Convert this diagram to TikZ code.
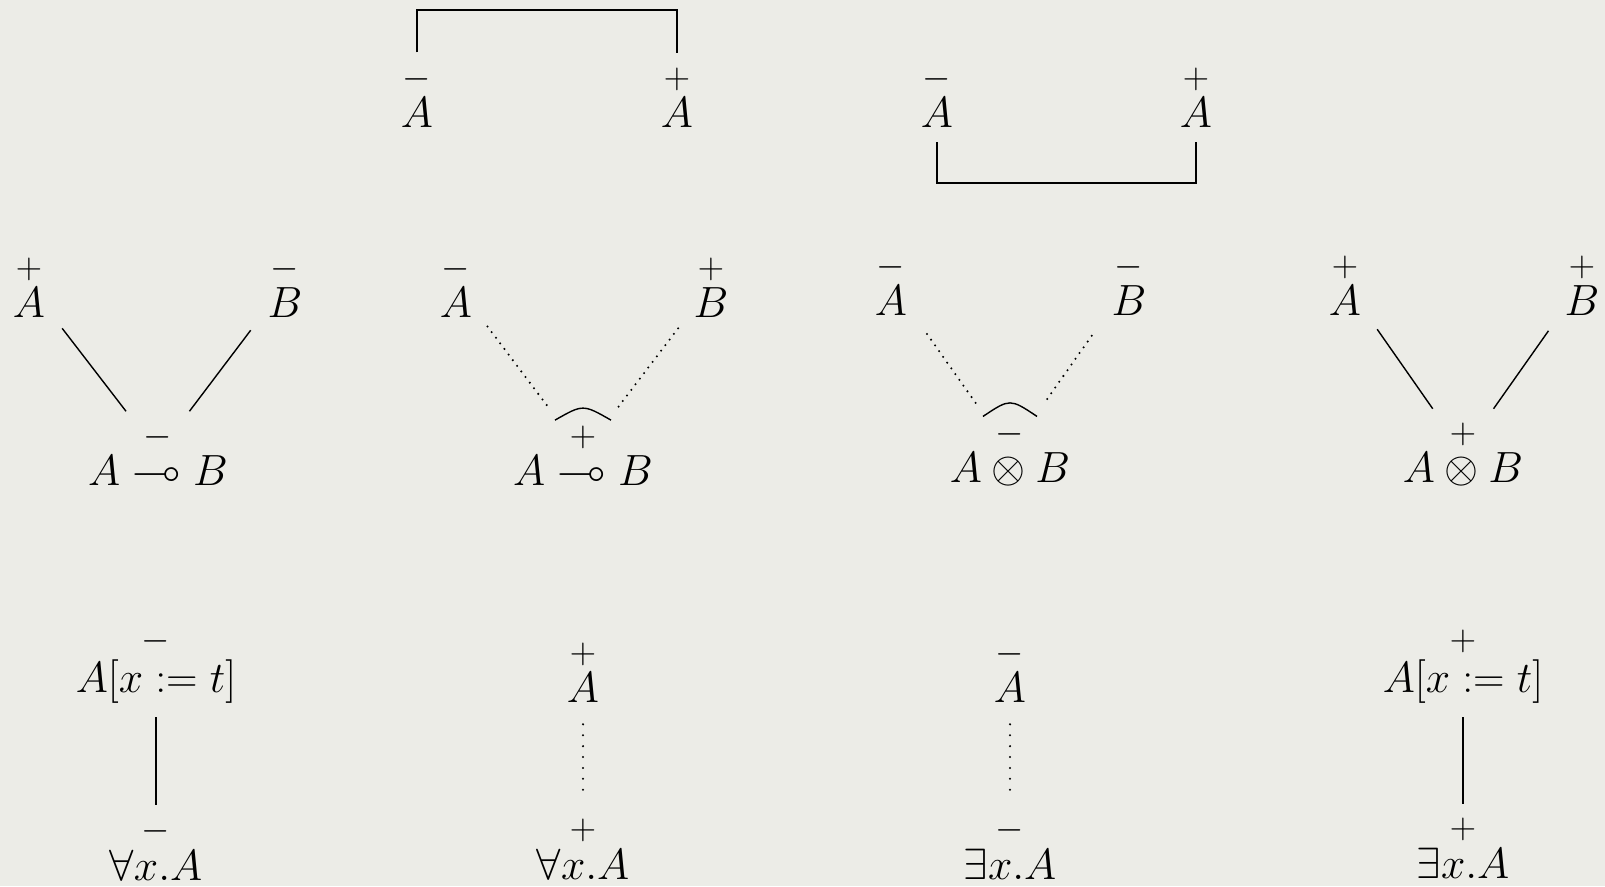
\documentclass[tikz,border=0pt]{standalone}
\usepackage{amsmath,amssymb}
\usetikzlibrary{calc}
\definecolor{paper}{RGB}{236,236,231}

\begin{document}
\begin{tikzpicture}[x=0.02cm,y=-0.02cm,
  fml/.style={anchor=base,inner sep=0pt,font=\Huge},
  link/.style={line width=0.8pt},
  dotlink/.style={line width=1.3pt,line cap=round,dash pattern=on 0pt off #1},
  dotlink/.default=4pt]
\fill[paper] (0,0) rectangle (1605,886);
\coordinate (top) at (0,10);
\coordinate (bot) at (0,183);

% axiom and cut
\node[fml] (ax1) at (417,127) {$\overset{-}{A}$};
\node[fml] (ax2) at (677,127) {$\overset{+}{A}$};
\node[fml] (cut1) at (937,127) {$\overset{-}{A}$};
\node[fml] (cut2) at (1196,127) {$\overset{+}{A}$};
\draw[link,shorten <=0.2cm,shorten >=0.2cm] (ax1.north) -- (ax1.north |- top) -| (ax2.north);
\draw[link,shorten <=0.3cm,shorten >=0.3cm] (cut1.south) -- (cut1.south |- bot) -| (cut2.south);

% binary links
\node[fml] (pA1) at (29,317) {$\overset{+}{A}$};
\node[fml] (nB1) at (285,317) {$\overset{-}{B}$};
\node[fml] (imp1) at (158,485) {$\overset{-}{A\multimap B}$};
\node[fml] (nA2) at (456,317) {$\overset{-}{A}$};
\node[fml] (pB2) at (711,317) {$\overset{+}{B}$};
\node[fml] (imp2) at (583,485) {$\overset{+}{A\multimap B}$};
\node[fml] (nA3) at (891,315) {$\overset{-}{A}$};
\node[fml] (nB3) at (1129,315) {$\overset{-}{B}$};
\node[fml] (ten3) at (1010,482) {$\overset{-}{A\otimes B}$};
\node[fml] (pA4) at (1345,315) {$\overset{+}{A}$};
\node[fml] (pB4) at (1582,315) {$\overset{+}{B}$};
\node[fml] (ten4) at (1463,482) {$\overset{+}{A\otimes B}$};

\draw[link,shorten <=0.55cm,shorten >=0.23cm] (pA1) -- (imp1);
\draw[link,shorten <=0.55cm,shorten >=0.23cm] (nB1) -- (imp1);
\draw[dotlink,shorten <=0.5cm,shorten >=0.35cm] (nA2) -- (imp2);
\draw[dotlink,shorten <=0.5cm,shorten >=0.35cm] (pB2) -- (imp2);
\draw[link] ($(imp2.north)+(-28,-1)$) .. controls ($(imp2.north)+(0,-17)$) .. ($(imp2.north)+(28,-1)$);
\draw[dotlink,shorten <=0.68cm,shorten >=0.32cm] (nA3) -- (ten3);
\draw[dotlink,shorten <=0.68cm,shorten >=0.32cm] (nB3) -- (ten3);
\draw[link] ($(ten3.north)+(-27,-1)$) .. controls ($(ten3.north)+(0,-19)$) .. ($(ten3.north)+(27,-1)$);
\draw[link,shorten <=0.55cm,shorten >=0.23cm] (pA4) -- (ten4);
\draw[link,shorten <=0.55cm,shorten >=0.23cm] (pB4) -- (ten4);

% quantifier links
\node[fml] (sub1) at (156,692) {$\overset{-}{A[x := t]}$};
\node[fml] (all1) at (156,880) {$\overset{-}{\forall x.A}$};
\node[fml] (pA5) at (583,702) {$\overset{+}{A}$};
\node[fml] (all2) at (583,879) {$\overset{+}{\forall x.A}$};
\node[fml] (nA6) at (1010,702) {$\overset{-}{A}$};
\node[fml] (ex1) at (1010,879) {$\overset{-}{\exists x.A}$};
\node[fml] (sub2) at (1463,692) {$\overset{+}{A[x := t]}$};
\node[fml] (ex2) at (1463,878) {$\overset{+}{\exists x.A}$};

\draw[link,shorten <=0.28cm,shorten >=0.2cm] (sub1) -- (all1);
\draw[dotlink=6.2pt,shorten <=0.44cm,shorten >=0.32cm] (pA5) -- (all2);
\draw[dotlink=6.2pt,shorten <=0.44cm,shorten >=0.32cm] (nA6) -- (ex1);
\draw[link,shorten <=0.28cm,shorten >=0.2cm] (sub2) -- (ex2);
\end{tikzpicture}
\end{document}
